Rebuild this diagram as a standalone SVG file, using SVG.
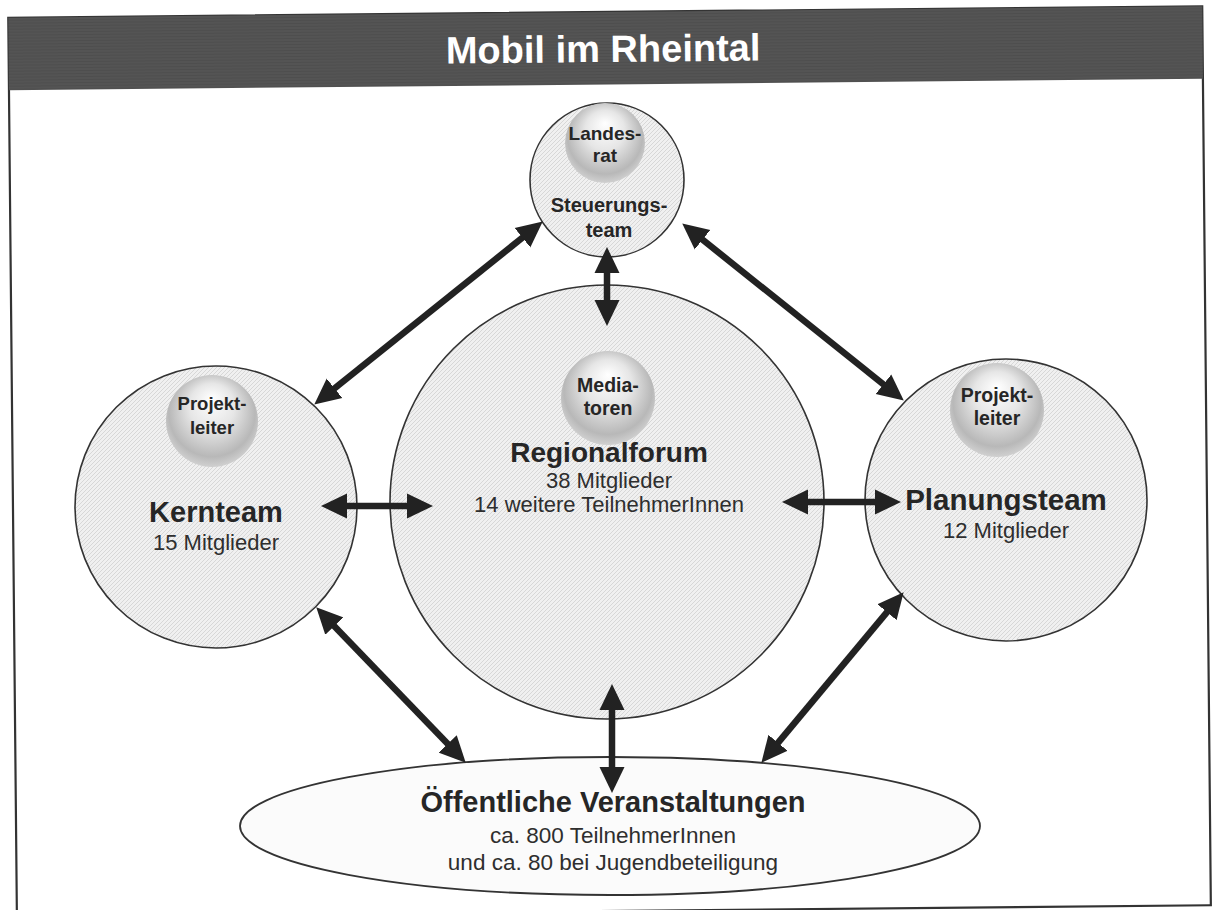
<svg xmlns="http://www.w3.org/2000/svg" width="1214" height="910" viewBox="0 0 1214 910">
<defs>
<style>
.bold{font-family:"Liberation Sans",Arial,sans-serif;font-weight:bold;fill:#262626;text-anchor:middle}
.reg{font-family:"Liberation Sans",Arial,sans-serif;fill:#2e2e2e;text-anchor:middle}
.circ{fill:url(#hatch);stroke:#333;stroke-width:1.6}
.ball{fill:url(#ballg)}
.arr{stroke:#222;stroke-width:6.5;fill:none;marker-start:url(#ah);marker-end:url(#ah)}
</style>
<pattern id="hatch" patternUnits="userSpaceOnUse" width="4" height="4">
<rect width="4" height="4" fill="#f0f0f0"/>
<path d="M-1,1 L1,-1 M0,4 L4,0 M3,5 L5,3" stroke="#d0d0d0" stroke-width="0.8"/>
</pattern>
<pattern id="barp" patternUnits="userSpaceOnUse" width="6" height="3">
<rect width="6" height="3" fill="#4e4e4e"/>
<path d="M0,1 H6" stroke="#5c5c5c" stroke-width="0.8"/>
</pattern>
<radialGradient id="ballg" cx="50%" cy="45%" r="55%" fx="50%" fy="25%">
<stop offset="0" stop-color="#ffffff"/>
<stop offset="0.45" stop-color="#e6e6e6"/>
<stop offset="0.85" stop-color="#b8b8b8"/>
<stop offset="1" stop-color="#d0d0d0"/>
</radialGradient>
<marker id="ah" markerUnits="userSpaceOnUse" markerWidth="28" markerHeight="26" refX="3" refY="12.5" orient="auto-start-reverse" viewBox="0 0 28 25">
<path d="M0,0 L26,12.5 L0,25 z" fill="#222"/>
</marker>
</defs>
<rect width="1214" height="910" fill="#fff"/>
<g id="frame" transform="rotate(-0.55 607 455)">
<rect x="12.5" y="12" width="1194" height="899" fill="none" stroke="#333" stroke-width="2.2"/>
<rect x="12.5" y="12" width="1194" height="72.5" fill="url(#barp)"/>
<text x="607" y="62" style="font-family:'Liberation Sans',Arial,sans-serif;font-weight:bold;font-size:38px;fill:#fff;text-anchor:middle">Mobil im Rheintal</text>
</g>
<g id="steuerungsteam">
<circle class="circ" cx="607" cy="180" r="77"/>
<circle class="ball" cx="605" cy="143" r="40"/>
<text class="bold" x="605" y="140" font-size="19">Landes-</text>
<text class="bold" x="605" y="162" font-size="19">rat</text>
<text class="bold" x="609" y="212" font-size="20">Steuerungs-</text>
<text class="bold" x="609" y="237" font-size="20">team</text>
</g>
<g id="kernteam">
<circle class="circ" cx="216" cy="507" r="141"/>
<circle class="ball" cx="212" cy="421" r="46"/>
<text class="bold" x="212" y="410" font-size="18.5">Projekt-</text>
<text class="bold" x="212" y="434" font-size="18.5">leiter</text>
<text class="bold" x="216" y="522" font-size="29">Kernteam</text>
<text class="reg" x="216" y="550" font-size="22">15 Mitglieder</text>
</g>
<g id="regionalforum">
<circle class="circ" cx="607" cy="502" r="217"/>
<circle class="ball" cx="608" cy="398" r="47"/>
<text class="bold" x="608" y="392" font-size="19.5">Media-</text>
<text class="bold" x="608" y="415" font-size="19.5">toren</text>
<text class="bold" x="609" y="462" font-size="28">Regionalforum</text>
<text class="reg" x="609" y="488" font-size="22">38 Mitglieder</text>
<text class="reg" x="609" y="512" font-size="22">14 weitere TeilnehmerInnen</text>
</g>
<g id="planungsteam">
<circle class="circ" cx="1006" cy="500" r="141"/>
<circle class="ball" cx="997" cy="410" r="47"/>
<text class="bold" x="997" y="402" font-size="19.5">Projekt-</text>
<text class="bold" x="997" y="425" font-size="19.5">leiter</text>
<text class="bold" x="1006" y="510" font-size="29.5">Planungsteam</text>
<text class="reg" x="1006" y="538" font-size="22">12 Mitglieder</text>
</g>
<g id="veranstaltungen">
<ellipse cx="610" cy="826" rx="370" ry="69" fill="#fbfbfb" stroke="#333" stroke-width="1.8"/>
<text class="bold" x="613" y="812" font-size="29">Öffentliche Veranstaltungen</text>
<text class="reg" x="613" y="843" font-size="22.5">ca. 800 TeilnehmerInnen</text>
<text class="reg" x="613" y="870" font-size="22.5">und ca. 80 bei Jugendbeteiligung</text>
</g>
<g id="connectors">
<line class="arr" x1="332.2" y1="390.2" x2="524.8" y2="235.8"/>
<line class="arr" x1="700.2" y1="237.8" x2="885.8" y2="386.2"/>
<line class="arr" x1="607" y1="270" x2="607" y2="303"/>
<line class="arr" x1="344" y1="506" x2="410" y2="506"/>
<line class="arr" x1="805" y1="502" x2="878" y2="502"/>
<line class="arr" x1="332.2" y1="623.9" x2="449.8" y2="746.1"/>
<line class="arr" x1="612" y1="707" x2="612" y2="770"/>
<line class="arr" x1="888.9" y1="609.9" x2="776.1" y2="745.1"/>
</g>
</svg>
